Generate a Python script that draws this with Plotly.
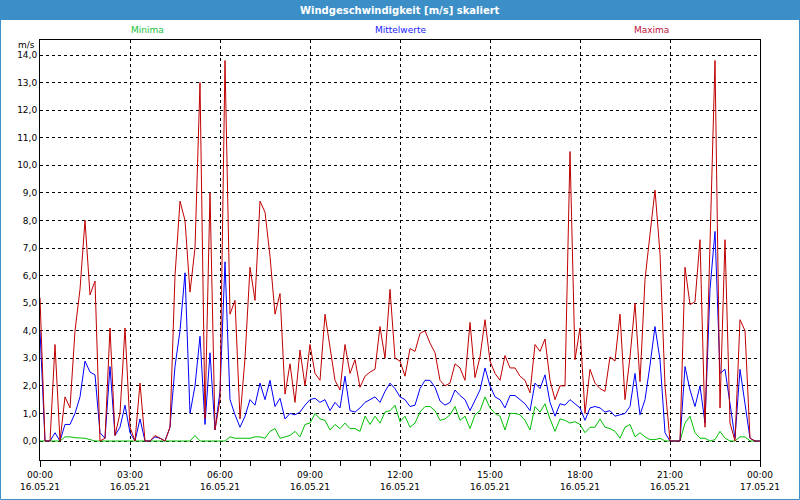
import pandas as pd
import plotly.graph_objects as go

# ---- data (10-minute values, 16.05.21 00:00 .. 17.05.21 00:00) ----
times = pd.date_range("2021-05-16 00:00", periods=145, freq="10min")

maxima = [5.2, 0.0, 0.0, 3.5, 0.0, 1.6, 1.2, 4.0, 5.5, 8.0, 5.3, 5.8, 0.0, 0.1, 4.1, 0.2,
          1.0, 4.1, 0.5, 0.0, 2.1, 0.0, 0.0, 0.2, 0.1, 0.0, 0.5, 6.0, 8.7, 8.0, 5.4, 7.0,
          13.0, 0.8, 9.0, 0.4, 1.5, 13.8, 4.6, 5.1, 0.8, 3.0, 6.3, 5.1, 8.7, 8.3, 6.7, 4.6,
          5.35, 1.7, 2.8, 1.4, 3.3, 2.0, 3.5, 2.45, 2.2, 4.6, 3.4, 2.2, 1.85, 3.5, 2.45, 2.95,
          1.95, 2.35, 2.5, 2.6, 4.15, 3.0, 5.5, 3.0, 2.9, 2.35, 3.35, 3.25, 3.9, 4.0, 3.55, 3.2,
          2.2, 2.0, 2.1, 2.8, 2.65, 2.2, 4.3, 2.3, 3.05, 4.4, 2.9, 2.45, 2.2, 3.1, 2.65, 2.65,
          2.35, 2.2, 1.75, 3.5, 3.25, 3.7, 2.2, 1.5, 2.0, 2.0, 10.5, 2.95, 4.1, 1.0, 2.6, 2.1,
          1.9, 1.8, 3.05, 2.9, 4.6, 1.5, 3.05, 5.0, 2.15, 5.85, 7.5, 9.1, 6.8, 2.0, 0.0, 0.0,
          0.0, 6.3, 4.95, 5.05, 7.3, 0.5, 7.0, 13.8, 1.2, 7.3, 0.65, 0.0, 4.4, 4.0, 0.1, 0.0,
          0.0]

mittelwerte = [4.0, 0.0, 0.0, 0.3, 0.0, 0.6, 0.6, 1.0, 1.6, 2.9, 2.5, 2.4, 0.3, 0.1, 2.7, 0.2,
               0.5, 1.3, 0.3, 0.0, 0.8, 0.0, 0.0, 0.15, 0.1, 0.0, 0.5, 2.7, 4.0, 6.1, 1.0, 2.0,
               3.8, 0.6, 3.2, 0.4, 1.8, 6.5, 1.5, 0.95, 0.5, 0.9, 1.5, 1.3, 2.1, 1.5, 2.2, 1.25,
               1.55, 0.8, 1.0, 0.95, 1.05, 1.3, 1.5, 1.55, 1.4, 1.5, 1.1, 1.4, 1.2, 2.35, 1.1, 1.05,
               1.2, 1.4, 1.5, 1.6, 1.4, 1.8, 2.1, 1.9, 1.6, 1.5, 1.25, 1.3, 1.9, 2.2, 2.2, 1.95,
               1.45, 1.3, 1.4, 1.85, 1.65, 1.5, 1.1, 1.5, 1.85, 2.65, 2.0, 1.6, 1.5, 1.2, 1.65, 1.65,
               1.5, 1.35, 1.1, 2.1, 1.9, 2.4, 1.4, 0.9, 1.35, 1.3, 1.5, 1.35, 1.2, 0.75, 1.2, 1.25,
               1.2, 1.05, 1.1, 0.9, 0.95, 1.0, 1.25, 2.45, 0.95, 1.5, 2.75, 4.15, 2.95, 0.3, 0.0, 0.0,
               0.0, 2.7, 1.85, 1.25, 2.0, 0.65, 5.5, 7.6, 2.45, 2.6, 1.25, 0.1, 2.6, 1.25, 0.1, 0.0,
               0.0]

minima = [0.0, 0.0, 0.0, 0.0, 0.0, 0.15, 0.15, 0.12, 0.1, 0.1, 0.05, 0.0, 0.0, 0.0, 0.0, 0.0,
          0.0, 0.0, 0.0, 0.0, 0.0, 0.0, 0.0, 0.0, 0.0, 0.0, 0.0, 0.0, 0.0, 0.0, 0.0, 0.2,
          0.0, 0.0, 0.0, 0.0, 0.0, 0.0, 0.15, 0.1, 0.1, 0.1, 0.1, 0.15, 0.15, 0.1, 0.35, 0.45,
          0.1, 0.15, 0.2, 0.35, 0.15, 0.6, 0.65, 1.0, 0.8, 0.75, 0.4, 0.6, 0.45, 0.65, 0.45, 0.45,
          0.35, 0.9, 0.6, 0.9, 0.65, 1.05, 1.1, 1.3, 0.7, 0.9, 0.5, 0.65, 1.05, 1.25, 1.25, 1.1,
          0.75, 0.8, 0.95, 1.25, 0.75, 0.9, 0.45, 0.95, 1.1, 1.6, 1.2, 1.0, 0.9, 0.4, 1.0, 1.0,
          0.95, 0.75, 0.4, 1.25, 1.05, 1.35, 0.8, 0.35, 0.8, 0.75, 0.65, 0.7, 0.6, 0.3, 0.5, 0.5,
          0.8, 0.5, 0.45, 0.35, 0.1, 0.5, 0.6, 0.15, 0.3, 0.15, 0.05, 0.05, 0.1, 0.0, 0.0, 0.0,
          0.0, 0.65, 0.9, 0.3, 0.1, 0.1, 0.0, 0.05, 0.35, 0.1, 0.0, 0.0, 0.15, 0.15, 0.0, 0.0,
          0.0]

y_ticks = list(range(0, 15))
y_ticklabels = [f"{v},0" for v in y_ticks]
x_ticks = pd.date_range("2021-05-16 00:00", periods=9, freq="3h")
x_ticklabels = ["00:00<br>16.05.21", "03:00<br>16.05.21", "06:00<br>16.05.21",
                "09:00<br>16.05.21", "12:00<br>16.05.21", "15:00<br>16.05.21",
                "18:00<br>16.05.21", "21:00<br>16.05.21", "00:00<br>17.05.21"]

title_text = "Windgeschwindigkeit [m/s] skaliert"
series_names = ["Minima", "Mittelwerte", "Maxima"]
series_colors = ["#00c000", "#0000ff", "#c00000"]
label_colors = ["#20c040", "#2020ff", "#c01040"]

# ---- figure ----
W, H = 800, 500
L, R, T, B = 40, 40, 40, 40
pw, ph = W - L - R, H - T - B

def px(x):
    return (x - L) / pw

def py(y):
    return (H - B - y) / ph

fig = go.Figure()
for name, vals, col in zip(series_names, [minima, mittelwerte, maxima], series_colors):
    fig.add_trace(go.Scatter(x=times, y=vals, mode="lines", name=name,
                             line=dict(color=col, width=1), hoverinfo="skip"))

ymin = -(460 - 441) / 27.57
ymax = 14 + (55 - 40) / 27.57

fig.update_layout(
    width=W, height=H,
    margin=dict(l=L, r=R, t=T, b=B, autoexpand=False),
    paper_bgcolor="#ffffff",
    plot_bgcolor="#ffffff",
    showlegend=False,
    font=dict(family="DejaVu Sans", size=9, color="black"),
    xaxis=dict(
        range=[times[0], times[-1]],
        tickvals=list(x_ticks), ticktext=x_ticklabels,
        tickfont=dict(size=9, family="DejaVu Sans"),
        showgrid=True, gridcolor="black", gridwidth=1, griddash="3px,3px",
        ticks="outside", ticklen=6, tickcolor="black",
        minor=dict(dtick=3600000, ticks="outside", ticklen=5, tickcolor="black", showgrid=False),
        showline=True, linecolor="black", linewidth=1, mirror=True,
        zeroline=False, automargin=False,
    ),
    yaxis=dict(
        range=[ymin, ymax],
        tickvals=y_ticks, ticktext=y_ticklabels,
        tickfont=dict(size=9, family="DejaVu Sans"),
        showgrid=True, gridcolor="black", gridwidth=1, griddash="3px,3px",
        ticks="", showline=True, linecolor="black", linewidth=1, mirror=True,
        zeroline=False, automargin=False,
    ),
)

shapes = [
    # title bar
    dict(type="rect", xref="paper", yref="paper", x0=px(0), x1=px(W), y0=py(20), y1=py(0),
         fillcolor="#3c8fc6", line=dict(width=0), layer="above"),
    # window frame
    dict(type="rect", xref="paper", yref="paper", x0=px(0.5), x1=px(W - 0.5), y0=py(H - 0.5), y1=py(0.5),
         fillcolor="rgba(0,0,0,0)", line=dict(color="#3c8fc6", width=1), layer="above"),
]
fig.update_layout(shapes=shapes)

annotations = [
    dict(text=f"<b>{title_text}</b>", x=0.5, y=py(10), xref="paper", yref="paper",
         showarrow=False, font=dict(color="white", size=10, family="DejaVu Sans"),
         xanchor="center", yanchor="middle"),
    dict(text="m/s", x=px(37), y=py(45), xref="paper", yref="paper", showarrow=False,
         xanchor="right", yanchor="middle", font=dict(size=9)),
]
for name, xc, col in zip(series_names, [147, 400, 651], label_colors):
    annotations.append(dict(text=name, x=px(xc), y=py(30), xref="paper", yref="paper",
                            showarrow=False, xanchor="center", yanchor="middle",
                            font=dict(size=9, color=col)))
fig.update_layout(annotations=annotations)

fig.write_html("out.html", config={"displayModeBar": False},
               post_script="document.body.style.margin='0px';")
